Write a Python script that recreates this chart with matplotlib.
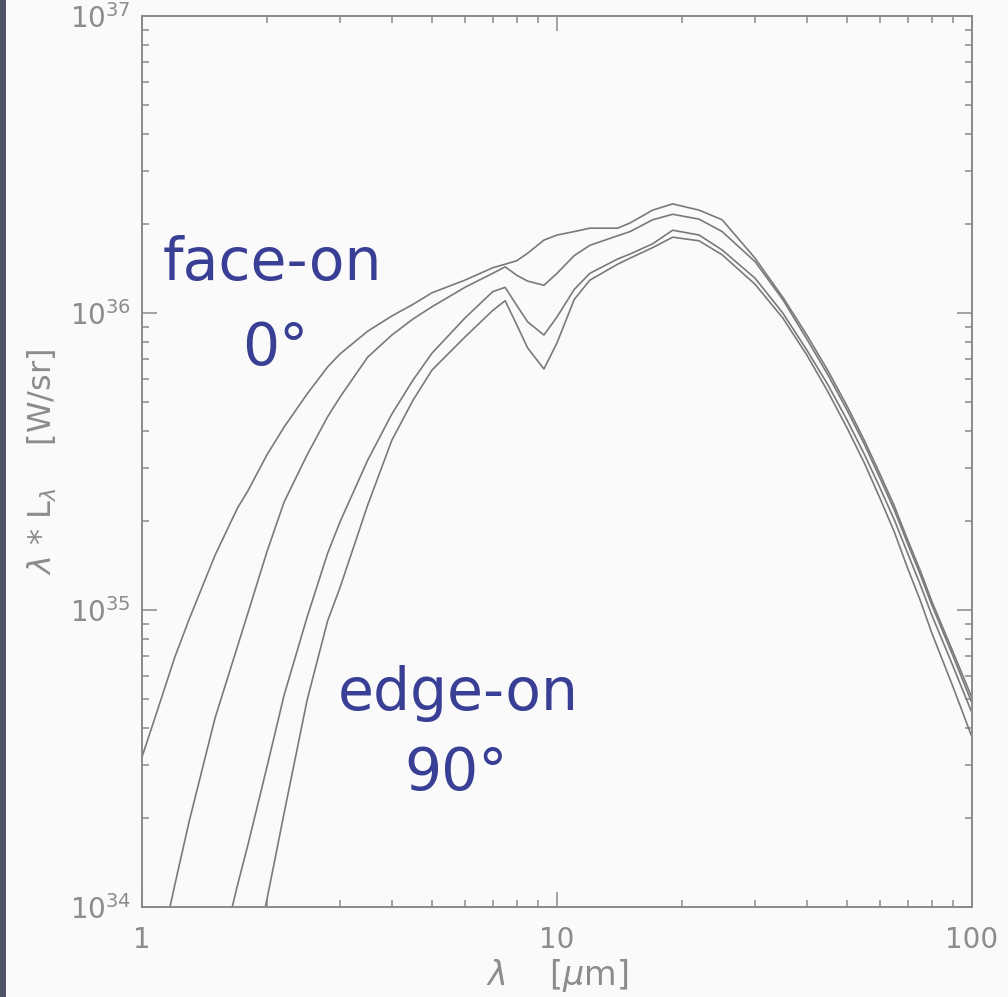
import matplotlib
matplotlib.use("Agg")
import matplotlib.pyplot as plt
from matplotlib.patches import Rectangle
from matplotlib import ticker
import numpy as np

# wavelength grid (micron)
wavelength = [1, 1.1, 1.2, 1.3, 1.5, 1.7, 1.8, 2, 2.2, 2.5, 2.8, 3, 3.5, 4, 4.5, 5,
              6, 7, 7.5, 8, 8.5, 9.3, 10, 11, 12, 14, 15, 17, 19, 22, 25, 30, 35,
              40, 45, 50, 55, 60, 65, 70, 75, 80, 90, 100]

# lambda * L_lambda [W/sr], face-on (0 deg) to edge-on (90 deg)
sed_0 = [3.20e34, 4.79e34, 6.95e34, 9.33e34, 1.53e35, 2.21e35, 2.52e35, 3.33e35,
         4.13e35, 5.34e35, 6.58e35, 7.28e35, 8.69e35, 9.77e35, 1.07e36, 1.17e36,
         1.29e36, 1.42e36, 1.46e36, 1.50e36, 1.59e36, 1.76e36, 1.83e36, 1.88e36,
         1.93e36, 1.93e36, 2.01e36, 2.22e36, 2.33e36, 2.22e36, 2.06e36, 1.53e36,
         1.13e36, 8.43e35, 6.38e35, 4.86e35, 3.73e35, 2.87e35, 2.24e35, 1.72e35,
         1.36e35, 1.07e35, 7.22e34, 5.06e34]
sed_1 = [3.77e33, 6.79e33, 1.19e34, 1.95e34, 4.33e34, 7.57e34, 9.77e34, 1.57e35,
         2.31e35, 3.33e35, 4.47e35, 5.21e35, 7.11e35, 8.43e35, 9.55e35, 1.05e36,
         1.22e36, 1.36e36, 1.43e36, 1.34e36, 1.28e36, 1.24e36, 1.36e36, 1.56e36,
         1.69e36, 1.82e36, 1.88e36, 2.06e36, 2.15e36, 2.07e36, 1.88e36, 1.49e36,
         1.11e36, 8.17e35, 6.18e35, 4.71e35, 3.62e35, 2.78e35, 2.17e35, 1.67e35,
         1.32e35, 1.04e35, 7.00e34, 4.86e34]
sed_2 = [None, None, None, None, 5.77e33, 1.19e34, 1.62e34, 2.96e34,
         5.17e34, 9.47e34, 1.55e35, 1.98e35, 3.20e35, 4.57e35, 5.95e35, 7.33e35,
         9.62e35, 1.18e36, 1.22e36, 1.06e36, 9.33e35, 8.43e35, 9.70e35, 1.20e36,
         1.36e36, 1.52e36, 1.58e36, 1.71e36, 1.90e36, 1.83e36, 1.63e36, 1.31e36,
         1.00e36, 7.50e35, 5.72e35, 4.36e35, 3.35e35, 2.58e35, 2.01e35, 1.55e35,
         1.22e35, 9.62e34, 6.47e34, 4.50e34]
sed_3 = [None, None, None, None, None, None, 5.59e33, 1.06e34,
         2.07e34, 4.98e34, 9.18e34, 1.19e35, 2.26e35, 3.73e35, 5.09e35, 6.43e35,
         8.30e35, 1.02e36, 1.10e36, 9.12e35, 7.62e35, 6.48e35, 7.93e35, 1.11e36,
         1.29e36, 1.46e36, 1.53e36, 1.66e36, 1.80e36, 1.75e36, 1.57e36, 1.25e36,
         9.62e35, 7.22e35, 5.42e35, 4.10e35, 3.13e35, 2.38e35, 1.83e35, 1.38e35,
         1.08e35, 8.37e34, 5.51e34, 3.73e34]

BG = "#fafafa"
LINE = "#7a7a7a"
AXIS = "#8a8a8a"
LABEL = "#8c8c8c"
BLUE = "#383f94"

W, H = 1008, 997
fig = plt.figure(figsize=(W / 100, H / 100), dpi=100, facecolor=BG)
fig.patches.append(Rectangle((0, 0), 6 / W, 1, transform=fig.transFigure,
                             facecolor="#4e5465", edgecolor="none", zorder=0))

ax = fig.add_axes([142 / W, 1 - 907 / H, (972 - 142) / W, (907 - 16) / H])
ax.set_facecolor(BG)

lam = np.array(wavelength, dtype=float)
for sed in (sed_0, sed_1, sed_2, sed_3):
    y = np.array([np.nan if v is None else v for v in sed], dtype=float)
    ax.plot(lam, y, color=LINE, lw=1.2)

ax.set_xscale("log")
ax.set_yscale("log")
ax.set_xlim(1, 100)
ax.set_ylim(1e34, 1e37)

ax.xaxis.set_major_locator(ticker.FixedLocator([1, 10, 100]))
ax.xaxis.set_major_formatter(ticker.FixedFormatter(["1", "10", "100"]))
ax.xaxis.set_minor_formatter(ticker.NullFormatter())
ax.yaxis.set_minor_formatter(ticker.NullFormatter())

ax.tick_params(which="both", direction="in", top=True, right=True,
               color=AXIS, labelcolor=LABEL, labelsize=20, width=1.1)
ax.tick_params(which="major", length=11)
ax.tick_params(which="minor", length=5)
ax.tick_params(axis="x", which="major", pad=14)
ax.tick_params(axis="y", which="major", pad=8)
for s in ax.spines.values():
    s.set_color(AXIS)
    s.set_linewidth(1.4)

ax.set_xlabel(r"$\lambda$    [$\mu$m]", color=LABEL, fontsize=24, labelpad=2)
ax.set_ylabel(r"$\lambda$ * L$_\lambda$    [W/sr]", color=LABEL, fontsize=23,
              labelpad=8)

def ftext(px, py, s):
    fig.text(px / W, 1 - py / H, s, ha="center", va="baseline",
             color=BLUE, fontsize=42)

ftext(272, 280, "face-on")
ftext(275, 365, "0°")
ftext(458, 710, "edge-on")
ftext(456, 790, "90°")

fig.savefig("out.png", dpi=100, facecolor=BG)
